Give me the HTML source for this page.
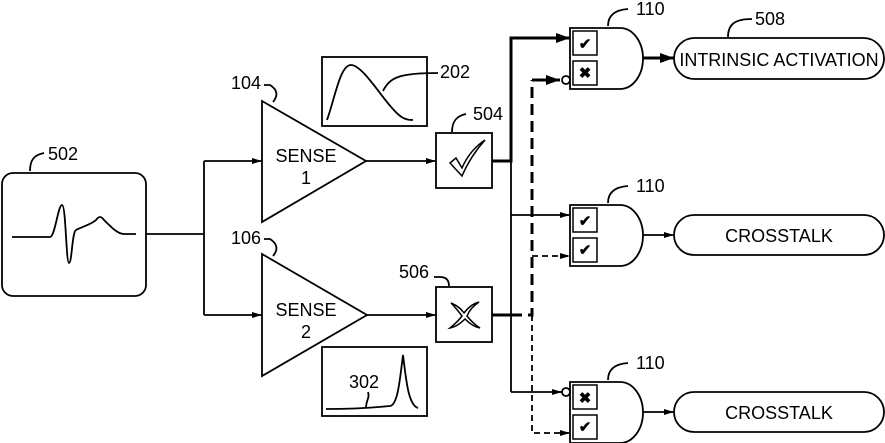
<!DOCTYPE html>
<html><head><meta charset="utf-8"><style>
html,body{margin:0;padding:0;background:#fff;}
svg{display:block;}
text{font-family:"Liberation Sans",Arial,sans-serif;fill:#000;}
</style></head><body>
<svg width="885" height="443" viewBox="0 0 885 443" xmlns="http://www.w3.org/2000/svg">
<defs>
<marker id="a" markerWidth="10" markerHeight="8" refX="10" refY="4" orient="auto" markerUnits="userSpaceOnUse"><path d="M0,1 L10,4 L0,7 Z" fill="#000"/></marker>
<marker id="b" markerWidth="14" markerHeight="10" refX="14" refY="5" orient="auto" markerUnits="userSpaceOnUse"><path d="M0,0 L14,5 L0,10 Z" fill="#000"/></marker>
</defs>
<g fill="none" stroke="#000" stroke-width="1.8">
<rect x="2" y="173" width="144" height="123" rx="11"/>
<path d="M12,237 L50,237 C55,237 58,205 62,205 C66,205 66,263 69,263 C72,263 72,232 76,230 C84,226 92,224 96,220 C99,216 101,216 104,220 C112,228 118,234 124,234 L136,234"/>
<path d="M30,171 C30,160 34,155 44,153"/>
<path d="M146,234 H204 M204,161 V315"/>
<path d="M204,161 H262" marker-end="url(#a)"/>
<path d="M204,315 H262" marker-end="url(#a)"/>
<path d="M262,101 L366,161 L262,222 Z"/>
<path d="M262,254 L367,315 L262,376 Z"/>
<path d="M273,102 C278,96 278,90 270,85 L264,85"/>
<path d="M273,256 C278,250 278,244 270,239 L264,239"/>
<rect x="322" y="57" width="105" height="69"/>
<path d="M327,120 C335,98 340,65 351,65 C362,65 380,95 392,108 C400,117 404,120 413,120"/>
<path d="M383,91 C390,77 400,73 438,73"/>
<rect x="322" y="347" width="105" height="69"/>
<path d="M326,409 C345,409 370,408 390,406 C398,405 400,378 403,355 C406,378 408,405 418,408"/>
<path d="M366,408 C366,400 370,398 368,392"/>
<path d="M366,161 H436" marker-end="url(#a)"/>
<path d="M367,315 H436" marker-end="url(#a)"/>
<rect x="436" y="133" width="56" height="55"/>
<rect x="436" y="287" width="56" height="55"/>
<path d="M452,132 C452,122 456,116 466,114"/>
<path d="M449,286 C449,280 446,277 440,277 L434,277"/>
<path d="M492,161 H511 V38 H570" stroke-width="3" marker-end="url(#b)"/>
<path d="M511,161 V392"/>
<path d="M511,215 H570" marker-end="url(#a)"/>
<path d="M511,392 H562" marker-end="url(#a)"/>
<path d="M492,315 H511" stroke-width="3"/>
<path d="M511,315 H532 V80" stroke-width="3" stroke-dasharray="11,6"/>
<path d="M532,80 H560" stroke-width="3" marker-end="url(#b)"/>
<path d="M532,315 V433 H570" stroke-dasharray="6,4" marker-end="url(#a)"/>
<path d="M532,256 H570" stroke-dasharray="6,4" marker-end="url(#a)"/>
<g id="g">
<path d="M570,28 H620 C633,28 643,42 643,58.5 C643,75 633,89 620,89 H570 Z"/>
<rect x="573" y="31" width="24" height="24" stroke-width="1.5"/>
<rect x="573" y="61" width="24" height="24" stroke-width="1.5"/>
<path d="M608,26 C608,16 614,10 628,9"/>
</g>
<use href="#g" transform="translate(0,177)"/>
<use href="#g" transform="translate(0,354)"/>
<circle cx="566" cy="80" r="4"/>
<circle cx="566" cy="392" r="4"/>
<path d="M643,58 H674" stroke-width="3" marker-end="url(#b)"/>
<path d="M643,235 H674" marker-end="url(#a)"/>
<path d="M643,412 H674" marker-end="url(#a)"/>
<rect x="674" y="38" width="210" height="41" rx="20.5"/>
<rect x="674" y="215" width="210" height="40" rx="20"/>
<rect x="674" y="392" width="210" height="40" rx="20"/>
<path d="M728,37 C728,25 734,19 752,19"/>
<!-- big check & x outlines -->
<path d="M450,163 L456,158 L462,168 C468,154 476,146 485,140 C476,150 468,162 462,176 Z" stroke-width="1.5"/>
<path d="M451,303 C458,306 462,310 464,313 C468,308 472,304 479,302 C473,306 469,311 467,316 C471,321 475,325 480,328 C474,327 469,323 465,319 C461,323 456,327 450,328 C455,324 459,320 462,316 C459,312 455,307 451,303 Z" stroke-width="1.5"/>
</g>
<g font-size="15" text-anchor="middle" font-weight="bold">
<text x="585" y="49">✔</text><text x="585" y="78">✖</text>
<text x="585" y="226">✔</text><text x="585" y="255">✔</text>
<text x="585" y="403">✖</text><text x="585" y="432">✔</text>
</g>
<g font-size="18" text-anchor="middle">
<text x="306" y="162">SENSE</text><text x="306" y="184">1</text>
<text x="306" y="316">SENSE</text><text x="306" y="338">2</text>
<text x="779" y="66" font-size="18">INTRINSIC ACTIVATION</text>
<text x="779" y="242">CROSSTALK</text>
<text x="779" y="419">CROSSTALK</text>
</g>
<g font-size="18">
<text x="48" y="160">502</text>
<text x="231" y="89">104</text>
<text x="231" y="244">106</text>
<text x="440" y="78">202</text>
<text x="349" y="388">302</text>
<text x="473" y="120">504</text>
<text x="399" y="278">506</text>
<text x="636" y="15">110</text>
<text x="636" y="192">110</text>
<text x="636" y="369">110</text>
<text x="755" y="25">508</text>
</g>
</svg>
</body></html>
